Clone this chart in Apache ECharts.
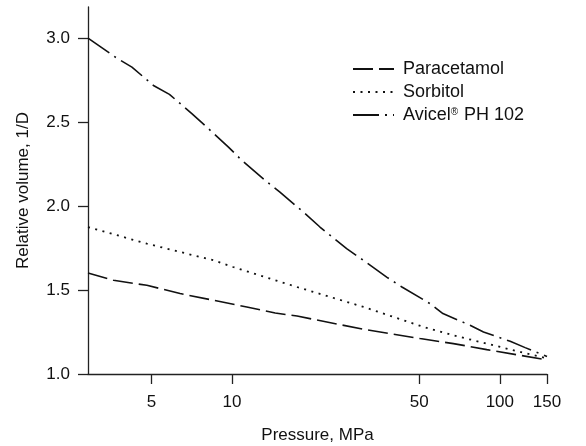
<!DOCTYPE html>
<html>
<head>
<meta charset="utf-8">
<script src="https://cdn.jsdelivr.net/npm/echarts@6/dist/echarts.min.js"></script>
<style>
html,body{margin:0;padding:0;background:#fff;}
#chart{width:586px;height:446px;}
</style>
</head>
<body>
<div id="chart"></div>
<script>
// Pressure (MPa) and relative volume (1/D)
const paracetamolP = [2.9, 3.61, 4.81, 6.40, 8.53, 11.36, 14.5, 17.5, 31.0, 50.4, 67.1, 89.4, 119.1, 150];
const paracetamolV = [1.601, 1.558, 1.528, 1.479, 1.439, 1.399, 1.363, 1.345, 1.266, 1.211, 1.181, 1.145, 1.111, 1.084];

const sorbitolP = [2.9, 4.81, 8.53, 10.1, 14.5, 17.5, 31.0, 51.9, 67.1, 89.4, 119.1, 150];
const sorbitolV = [1.875, 1.776, 1.677, 1.637, 1.558, 1.518, 1.399, 1.280, 1.230, 1.181, 1.131, 1.094];

const avicelP = [2.9, 3.71, 4.23, 5.09, 5.84, 7.08, 8.05, 9.70, 10.88, 13.3, 15.1, 18.75, 21.3, 26.8, 30.3, 37.8, 43.1, 54.9, 61.3, 77.4, 86.9, 109.3, 124.3, 150];
const avicelV = [3.00, 2.881, 2.827, 2.718, 2.665, 2.55, 2.470, 2.351, 2.272, 2.153, 2.083, 1.955, 1.875, 1.746, 1.687, 1.577, 1.518, 1.419, 1.360, 1.290, 1.250, 1.195, 1.157, 1.104];

const seriesNames = ['Paracetamol', 'Sorbitol', 'Avicel® PH 102'];
const xTickValues = [5, 10, 50, 100, 150];
const yTickValues = [1.0, 1.5, 2.0, 2.5, 3.0];

const zip = (xs, ys) => xs.map((x, i) => [x, ys[i]]);
const FONT = "'Liberation Sans', Arial, Helvetica, sans-serif";
const INK = '#111';

const chart = echarts.init(document.getElementById('chart'), null, {renderer: 'canvas'});
chart.setOption({
  animation: false,
  backgroundColor: '#fff',
  grid: {left: 88, right: 39, top: 7, bottom: 72, containLabel: false, outerBoundsMode: 'none'},
  legend: {
    show: true,
    orient: 'vertical',
    left: 352,
    top: 60,
    padding: 0,
    itemWidth: 41,
    itemHeight: 16,
    itemGap: 5,
    itemStyle: {opacity: 0},
    data: seriesNames,
    formatter: function (name) {
      return name === 'Avicel® PH 102' ? 'Avicel{r|®} PH 102' : name;
    },
    textStyle: {
      fontFamily: FONT, fontSize: 18, color: INK, padding: [0, 0, 0, 4],
      rich: {r: {fontFamily: FONT, fontSize: 10, color: INK, padding: [0, 1, 6, 0]}}
    }
  },
  xAxis: {
    type: 'log',
    min: 2.9,
    max: 150,
    name: 'Pressure, MPa',
    nameLocation: 'middle',
    nameGap: 53,
    nameTextStyle: {fontFamily: FONT, fontSize: 17, color: INK},
    axisLine: {show: true, lineStyle: {color: '#222', width: 1.3}},
    axisTick: {show: true, length: 10, lineStyle: {color: '#222', width: 1.3}, customValues: xTickValues},
    axisLabel: {fontFamily: FONT, fontSize: 17, color: INK, margin: 20, customValues: xTickValues,
      formatter: v => String(Math.round(v))},
    splitLine: {show: false},
    minorTick: {show: false}
  },
  yAxis: {
    type: 'value',
    min: 1.0,
    max: 3.185,
    name: 'Relative volume, 1/D',
    nameLocation: 'middle',
    nameGap: 56,
    nameTextStyle: {fontFamily: FONT, fontSize: 17, color: INK},
    axisLine: {show: true, lineStyle: {color: '#222', width: 1.3}},
    axisTick: {show: true, length: 10, lineStyle: {color: '#222', width: 1.3}, customValues: yTickValues},
    axisLabel: {fontFamily: FONT, fontSize: 17, color: INK, margin: 18, customValues: yTickValues,
      formatter: v => Number(v).toFixed(1)},
    splitLine: {show: false}
  },
  series: [
    {
      name: seriesNames[0], type: 'line', showSymbol: false, symbol: 'none', smooth: false,
      itemStyle: {color: INK},
      data: zip(paracetamolP, paracetamolV),
      lineStyle: {color: INK, width: 1.6, type: [20, 6]}
    },
    {
      name: seriesNames[1], type: 'line', showSymbol: false, symbol: 'none', smooth: false,
      itemStyle: {color: INK},
      data: zip(sorbitolP, sorbitolV),
      lineStyle: {color: INK, width: 1.8, type: [2, 5.5]}
    },
    {
      name: seriesNames[2], type: 'line', showSymbol: false, symbol: 'none', smooth: false,
      itemStyle: {color: INK},
      data: zip(avicelP, avicelV),
      lineStyle: {color: INK, width: 1.6, type: [26, 6, 2, 6]}
    }
  ]
});
</script>
</body>
</html>
